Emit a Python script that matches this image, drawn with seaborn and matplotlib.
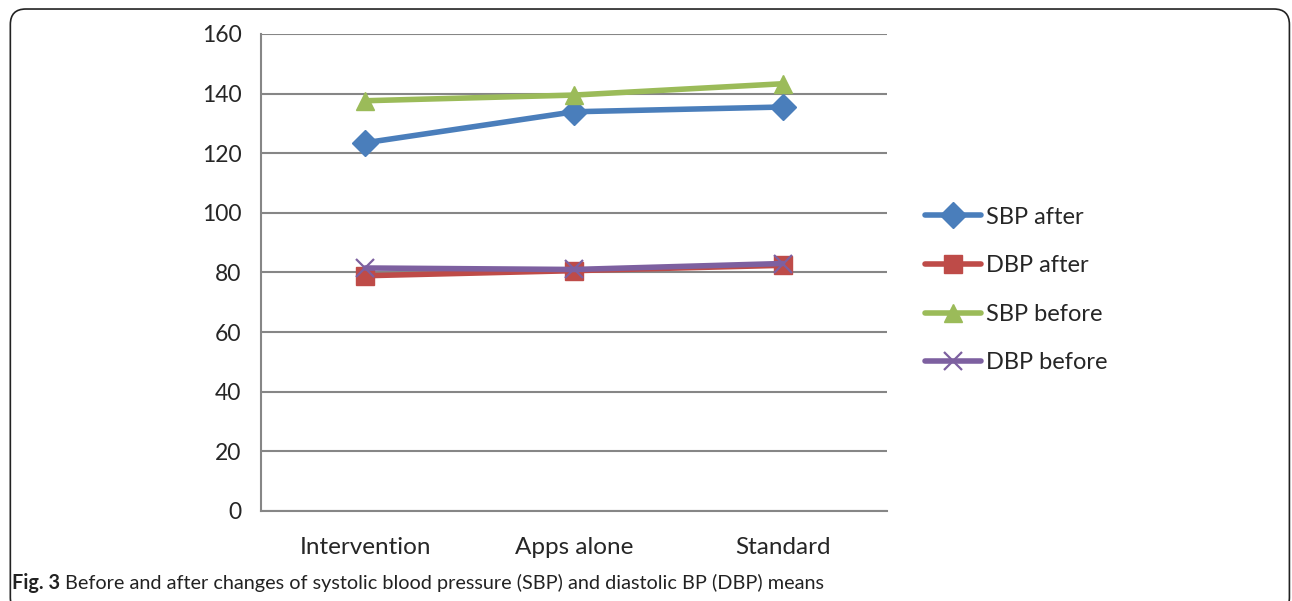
import matplotlib
matplotlib.use("Agg")
import matplotlib.pyplot as plt
from matplotlib.patches import FancyBboxPatch
import seaborn as sns
import pandas as pd

groups = ["Intervention", "Apps alone", "Standard"]
series = ["SBP after", "DBP after", "SBP before", "DBP before"]
sbp_after = [123.5, 133.9, 135.5]
dbp_after = [78.9, 80.6, 82.4]
sbp_before = [137.6, 139.5, 143.3]
dbp_before = [81.5, 81.0, 83.0]
yticks = [0, 20, 40, 60, 80, 100, 120, 140, 160]

colors = ["#4A7EBB", "#BE4B48", "#9BBB59", "#7D60A0"]
markers = ["D", "s", "^", "x"]

rows = []
for name, vals in zip(series, [sbp_after, dbp_after, sbp_before, dbp_before]):
    for g, v in zip(groups, vals):
        rows.append({"group": g, "value": v, "series": name})
df = pd.DataFrame(rows)

sns.set_style("white")
plt.rcParams["font.family"] = ["Lato", "DejaVu Sans"]

fig = plt.figure(figsize=(12.92, 6.01), dpi=100)
ax = fig.add_axes([0.2020, 0.1498, 0.4845, 0.7937])

for name, c, m in zip(series, colors, markers):
    d = df[df.series == name]
    if m == "x":
        kw = dict(markersize=13.5, markeredgewidth=1.6)
    else:
        kw = dict(markersize=13, markeredgewidth=1)
    sns.lineplot(x="group", y="value", data=d, ax=ax, color=c, marker=m,
                 markeredgecolor=c, linewidth=4, label=name, sort=False, **kw)

ax.set_xlim(-0.5, 2.5)
ax.set_ylim(0, 160)
ax.set_yticks(yticks)
ax.grid(axis="y", color="#868686", linewidth=1.5)
ax.set_axisbelow(True)
ax.set_xlabel("")
ax.set_ylabel("")
for s in ["top", "right"]:
    ax.spines[s].set_visible(False)
for s in ["left", "bottom"]:
    ax.spines[s].set_color("#868686")
    ax.spines[s].set_linewidth(1.5)
ax.tick_params(axis="y", length=6, width=1.5, color="#868686", labelsize=16.5, pad=8)
ax.tick_params(axis="x", which="major", length=0, labelsize=17.5, pad=19)
ax.set_xticks([-0.5, 0.5, 1.5, 2.5], minor=True)
ax.tick_params(axis="x", which="minor", length=6, width=1.5, color="#868686")

ax.legend(loc="center left", bbox_to_anchor=(0.716, 0.5175),
          bbox_transform=fig.transFigure, frameon=False, fontsize=17,
          handlelength=2.35, handletextpad=0.25, labelspacing=1.17,
          borderpad=0, borderaxespad=0)

frame = FancyBboxPatch((0.008, -0.02), 0.99, 1.005, transform=fig.transFigure,
                       boxstyle="round,pad=0,rounding_size=0.012",
                       facecolor="none", edgecolor="#222222", linewidth=1.2,
                       mutation_aspect=1292 / 601)
fig.patches.append(frame)

t1 = fig.text(0.009, 0.02, "Fig. 3", fontsize=14.3, fontweight="bold", color="#222222")
fig.canvas.draw()
bb = t1.get_window_extent()
fig.text((bb.x1 + 5) / 1292, 0.02,
         "Before and after changes of systolic blood pressure (SBP) and diastolic BP (DBP) means",
         fontsize=14.3, color="#222222")

fig.savefig("out.png", dpi=100)
